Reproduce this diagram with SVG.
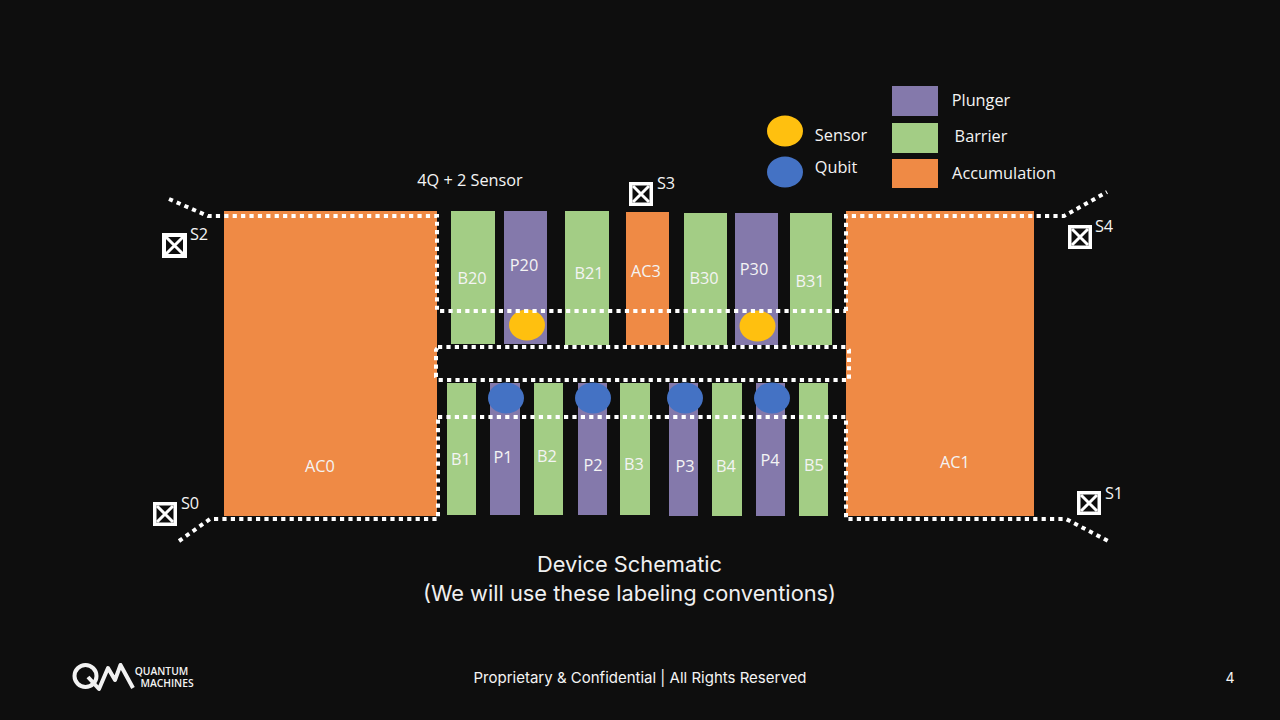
<svg xmlns="http://www.w3.org/2000/svg" width="1280" height="720" viewBox="0 0 1280 720">
<style>
text{font-family:"Open Sans","Noto Sans",sans-serif;fill:#f4f4f4;font-size:16.300px;text-anchor:middle}
.l{fill:#f0f0f0}
.p{fill:#8479ab}.b{fill:#a3cd85}.a{fill:#ef8a45}.s{fill:#ffc00f}.q{fill:#4472c4}
.d{fill:none;stroke:#fff;stroke-width:4;stroke-dasharray:4.200 4.200}
.t{fill:#fff}.k{fill:#0e0e0e}.x{fill:none;stroke:#fff;stroke-width:3}
.g{font-family:"Inter","Open Sans",sans-serif}
</style>
<rect width="1280" height="720" fill="#0e0e0e"/>
<g id="AC0"><rect class="a" x="224" y="211" width="213" height="305"/><text x="320" y="472">AC0</text></g>
<g id="AC1"><rect class="a" x="846" y="211" width="188" height="305"/><text x="955" y="468">AC1</text></g>
<g id="B20"><rect class="b" x="451" y="211" width="44" height="133"/><text x="472" y="284">B20</text></g>
<g id="P20"><rect class="p" x="504" y="211" width="43" height="133"/><text x="524" y="271">P20</text></g>
<g id="B21"><rect class="b" x="565" y="211" width="44" height="134"/><text x="589" y="279">B21</text></g>
<g id="AC3"><rect class="a" x="626" y="212" width="43" height="133"/><text x="646" y="277">AC3</text></g>
<g id="B30"><rect class="b" x="684" y="213" width="43" height="132"/><text x="704" y="284">B30</text></g>
<g id="P30"><rect class="p" x="735" y="213" width="43" height="132"/><text x="754" y="275">P30</text></g>
<g id="B31"><rect class="b" x="790" y="213" width="42" height="132"/><text x="810" y="287">B31</text></g>
<g id="B1"><rect class="b" x="447" y="383" width="29" height="132"/><text x="461" y="465">B1</text></g>
<g id="P1"><rect class="p" x="490" y="383" width="30" height="132"/><text x="503" y="463">P1</text></g>
<g id="B2"><rect class="b" x="534" y="383" width="29" height="132"/><text x="547" y="462">B2</text></g>
<g id="P2"><rect class="p" x="578" y="383" width="29" height="132"/><text x="593" y="471">P2</text></g>
<g id="B3"><rect class="b" x="620" y="383" width="30" height="132"/><text x="634" y="470">B3</text></g>
<g id="P3"><rect class="p" x="669" y="383" width="29" height="133"/><text x="685" y="472">P3</text></g>
<g id="B4"><rect class="b" x="712" y="383" width="30" height="133"/><text x="726" y="472">B4</text></g>
<g id="P4"><rect class="p" x="756" y="383" width="29" height="133"/><text x="770" y="466">P4</text></g>
<g id="B5"><rect class="b" x="799" y="383" width="29" height="133"/><text x="814" y="471">B5</text></g>
<g id="sensors"><ellipse class="s" cx="527" cy="325" rx="18" ry="15.500"/><ellipse class="s" cx="757.500" cy="326" rx="18" ry="15.500"/></g>
<g id="qubits"><ellipse class="q" cx="506" cy="398" rx="18" ry="15.500"/><ellipse class="q" cx="593" cy="398" rx="18" ry="15.500"/><ellipse class="q" cx="685" cy="398" rx="18" ry="15.500"/><ellipse class="q" cx="772" cy="398" rx="18" ry="15.500"/></g>
<g id="connectors">
<path class="d" d="M169 199L208 216H437V311H846"/>
<path class="d" d="M846 311V216H1064L1107 192"/>
<path class="d" d="M438 347H846L849 350V380H438L436 377V350Z"/>
<path class="d" d="M438 417H846V519H1066L1110 542"/>
<path class="d" d="M179 541L210 519H438V417"/>
</g>
<g id="S0"><rect class="t" x="153" y="502" width="24" height="24"/><rect class="k" x="156.500" y="505.500" width="17" height="17"/><path class="x" d="M157 506L173 522M173 506L157 522"/><text x="190" y="509">S0</text></g>
<g id="S1"><rect class="t" x="1077" y="491" width="24" height="24"/><rect class="k" x="1080.500" y="494.500" width="17" height="17"/><path class="x" d="M1081 495L1097 511M1097 495L1081 511"/><text x="1114" y="499">S1</text></g>
<g id="S2"><rect class="t" x="162" y="233" width="25" height="25"/><rect class="k" x="166" y="237" width="17" height="17"/><path class="x" d="M166 237L183 254M183 237L166 254"/><text x="199" y="240">S2</text></g>
<g id="S3"><rect class="t" x="629" y="182" width="24" height="24"/><rect class="k" x="632.500" y="185.500" width="17" height="17"/><path class="x" d="M633 186L649 202M649 186L633 202"/><text x="666" y="189">S3</text></g>
<g id="S4"><rect class="t" x="1068" y="225" width="24" height="24"/><rect class="k" x="1071.500" y="228.500" width="17" height="17"/><path class="x" d="M1072 229L1088 245M1088 229L1072 245"/><text x="1104" y="232">S4</text></g>
<g id="legend">
<ellipse class="s" cx="785" cy="131" rx="18" ry="15.500"/><text x="841" y="141">Sensor</text>
<ellipse class="q" cx="785" cy="172" rx="18" ry="15.500"/><text x="836" y="173">Qubit</text>
<rect class="p" x="892" y="86" width="46" height="30"/><text x="981" y="106">Plunger</text>
<rect class="b" x="892" y="123" width="46" height="30"/><text x="981" y="142">Barrier</text>
<rect class="a" x="892" y="159" width="46" height="29"/><text x="1004" y="179">Accumulation</text>
</g>
<text x="470" y="186">4Q + 2 Sensor</text>
<g id="caption"><text class="g l" x="629.500" y="572" style="font-size:21.800px">Device Schematic</text><text class="g l" x="629.500" y="601" style="font-size:21.800px">(We will use these labeling conventions)</text></g>
<g id="footer"><text class="g" x="640" y="683" style="font-size:15px">Proprietary &amp; Confidential | All Rights Reserved</text><text class="g" x="1230" y="683" style="font-size:14px">4</text></g>
<g id="logo" fill="none" stroke="#f2f2f2" stroke-width="4"><circle cx="85.500" cy="676" r="11"/><path d="M88 677L99 689L108 668L115 680L120.500 665L133 688" stroke-linejoin="round"/>
<text x="161.500" y="675" style="font-size:10.300px;font-weight:600;stroke:none">QUANTUM</text><text x="167" y="686.500" style="font-size:10.300px;font-weight:600;stroke:none">MACHINES</text></g>
</svg>
